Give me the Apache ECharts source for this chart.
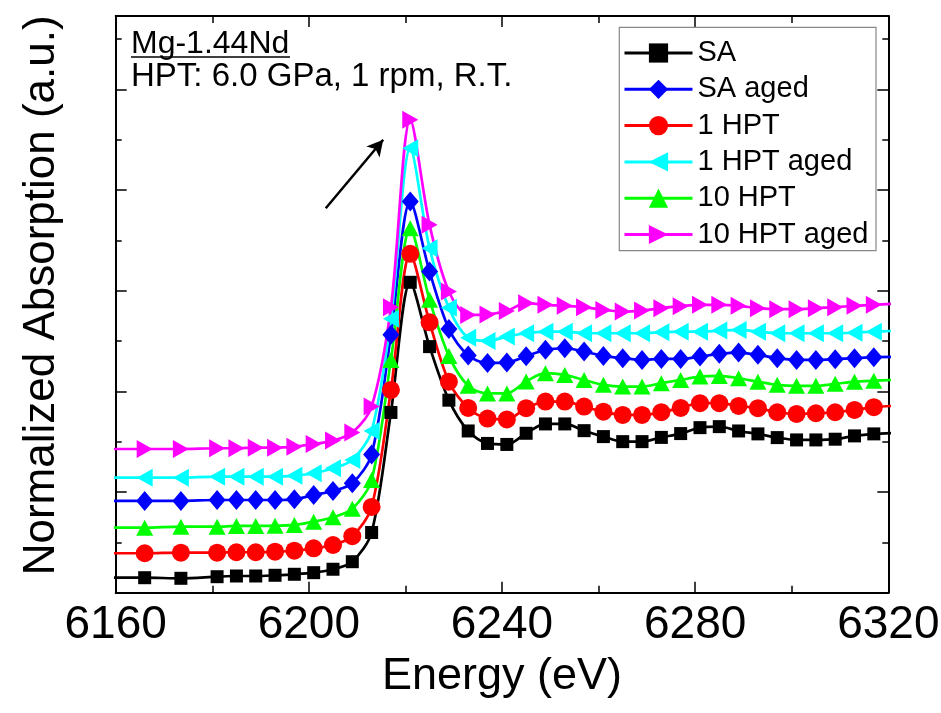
<!DOCTYPE html>
<html>
<head>
<meta charset="utf-8">
<script src="https://cdn.jsdelivr.net/npm/echarts@6/dist/echarts.min.js"></script>
<style>
html,body{margin:0;padding:0;background:#fff;}
#chart{width:941px;height:713px;}
</style>
</head>
<body>
<div id="chart"></div>
<script>
const energy = [6158.5, 6166, 6173.5, 6181, 6185, 6189, 6193, 6197, 6201, 6205, 6209, 6213,
  6217, 6221, 6225, 6229, 6233, 6237, 6241, 6245, 6249, 6253, 6257, 6261, 6265, 6269,
  6273, 6277, 6281, 6285, 6289, 6293, 6297, 6301, 6305, 6309, 6313, 6317, 6321];

const seriesNames = ['SA', 'SA aged', '1 HPT', '1 HPT aged', '10 HPT', '10 HPT aged'];

const SA = [0.149, 0.149, 0.143, 0.159, 0.166, 0.166, 0.173, 0.183, 0.199, 0.233, 0.308, 0.598,
  1.791, 3.084, 2.445, 1.913, 1.607, 1.483, 1.473, 1.584, 1.677, 1.677, 1.610, 1.551, 1.501, 1.501,
  1.543, 1.581, 1.640, 1.650, 1.607, 1.578, 1.541, 1.518, 1.518, 1.525, 1.558, 1.578, 1.587];
const SAaged = [0.912, 0.912, 0.912, 0.921, 0.921, 0.921, 0.921, 0.928, 0.971, 1.011, 1.087, 1.374,
  2.562, 3.887, 3.191, 2.621, 2.358, 2.283, 2.288, 2.350, 2.413, 2.429, 2.396, 2.353, 2.330, 2.313,
  2.323, 2.323, 2.346, 2.373, 2.386, 2.363, 2.330, 2.313, 2.313, 2.320, 2.330, 2.340, 2.343];
const HPT1 = [0.392, 0.392, 0.398, 0.398, 0.402, 0.402, 0.408, 0.417, 0.441, 0.474, 0.561, 0.852,
  2.015, 3.367, 2.686, 2.097, 1.836, 1.730, 1.722, 1.833, 1.899, 1.899, 1.849, 1.799, 1.766, 1.766,
  1.794, 1.836, 1.883, 1.883, 1.856, 1.833, 1.793, 1.776, 1.783, 1.793, 1.816, 1.843, 1.856];
const HPT1aged = [1.143, 1.143, 1.143, 1.153, 1.153, 1.153, 1.153, 1.163, 1.187, 1.237, 1.319, 1.607,
  2.721, 4.417, 3.423, 2.830, 2.532, 2.502, 2.545, 2.578, 2.594, 2.594, 2.578, 2.578, 2.578, 2.578,
  2.589, 2.594, 2.594, 2.604, 2.611, 2.594, 2.578, 2.578, 2.578, 2.578, 2.584, 2.594, 2.601];
const HPT10 = [0.646, 0.646, 0.656, 0.656, 0.663, 0.663, 0.666, 0.673, 0.706, 0.750, 0.834, 1.120,
  2.313, 3.622, 2.910, 2.353, 2.055, 1.980, 1.980, 2.099, 2.181, 2.164, 2.114, 2.065, 2.048, 2.048,
  2.082, 2.114, 2.147, 2.154, 2.131, 2.097, 2.065, 2.055, 2.055, 2.075, 2.097, 2.107, 2.114];
const HPT10aged = [1.428, 1.428, 1.428, 1.435, 1.435, 1.441, 1.441, 1.451, 1.478, 1.511, 1.592, 1.849,
  2.835, 4.699, 3.655, 2.992, 2.760, 2.765, 2.800, 2.877, 2.860, 2.850, 2.837, 2.810, 2.793, 2.803,
  2.827, 2.847, 2.860, 2.860, 2.850, 2.827, 2.817, 2.817, 2.827, 2.837, 2.850, 2.860, 2.870];

const xTicks = [6160, 6200, 6240, 6280, 6320];
const arrowFrom = [6203.5, 3.82];
const arrowTo = [6215.4, 4.50];

const FONT = '"Liberation Sans", Arial, sans-serif';

const styles = [
  {color: '#000000', symbol: 'rect', size: 13},
  {color: '#0000ff', symbol: 'diamond', size: [17, 20]},
  {color: '#ff0000', symbol: 'circle', size: 18},
  {color: '#00ffff', symbol: 'path://M10,0 L0,5 L10,10 Z', size: [16, 18]},
  {color: '#00ff00', symbol: 'triangle', size: [17, 16]},
  {color: '#ff00ff', symbol: 'path://M0,0 L10,5 L0,10 Z', size: [16, 18]}
];
const allData = [SA, SAaged, HPT1, HPT1aged, HPT10, HPT10aged];

const series = seriesNames.map((name, i) => ({
  name: name,
  type: 'line',
  data: energy.map((e, k) => [e, allData[i][k]]),
  smooth: 0.3,
  symbol: styles[i].symbol,
  symbolSize: styles[i].size,
  showAllSymbol: true,
  clip: true,
  lineStyle: {color: styles[i].color, width: 2.7},
  itemStyle: {color: styles[i].color},
  emphasis: {disabled: true}
}));

series.push({
  name: 'arrow',
  type: 'line',
  data: [],
  markLine: {
    silent: true,
    animation: false,
    symbol: ['none', 'arrow'],
    symbolSize: [13, 16],
    label: {show: false},
    lineStyle: {color: '#000', width: 2.5, type: 'solid'},
    data: [[{coord: arrowFrom}, {coord: arrowTo}]]
  }
});

const axisCommon = {
  type: 'value',
  min: 6160, max: 6320, interval: 40,
  axisLine: {show: true, onZero: false, lineStyle: {color: '#000', width: 2}},
  axisTick: {show: true, inside: true, length: 11, lineStyle: {color: '#000', width: 1.5}},
  minorTick: {show: true, splitNumber: 2, length: 7, lineStyle: {color: '#000', width: 1.5}},
  splitLine: {show: false},
  minorSplitLine: {show: false}
};
const yCommon = {
  type: 'value',
  min: 0, max: 5.73, interval: 1,
  axisLine: {show: true, onZero: false, lineStyle: {color: '#000', width: 2}},
  axisTick: {show: true, inside: true, length: 11, lineStyle: {color: '#000', width: 1.5}},
  minorTick: {show: true, splitNumber: 2, length: 6, lineStyle: {color: '#000', width: 1.5}},
  splitLine: {show: false},
  minorSplitLine: {show: false},
  axisLabel: {show: false}
};

const chart = echarts.init(document.getElementById('chart'), null, {renderer: 'canvas'});
chart.setOption({
  animation: false,
  backgroundColor: '#fff',
  grid: {left: 115.7, right: 52.7, top: 16, bottom: 120.3, containLabel: false, outerBoundsMode: 'none'},
  xAxis: [
    Object.assign({}, axisCommon, {
      position: 'bottom',
      name: 'Energy (eV)', nameLocation: 'middle', nameGap: 58,
      nameTextStyle: {fontSize: 45, fontFamily: FONT, color: '#000'},
      axisLabel: {show: true, margin: 10, fontSize: 46, fontFamily: FONT, color: '#000',
        formatter: v => xTicks.indexOf(v) >= 0 ? String(v) : ''}
    }),
    Object.assign({}, axisCommon, {position: 'top', axisLabel: {show: false}})
  ],
  yAxis: [
    Object.assign({}, yCommon, {
      position: 'left',
      name: 'Normalized Absorption (a.u.)', nameLocation: 'middle', nameGap: 52,
      nameTextStyle: {fontSize: 44, fontFamily: FONT, color: '#000', padding: [0, 0, 0, 18]}
    }),
    Object.assign({}, yCommon, {position: 'right'})
  ],
  legend: {
    data: seriesNames,
    orient: 'vertical',
    left: 623, top: 38,
    padding: 0,
    itemWidth: 68, itemHeight: 24, itemGap: 6.3,
    lineStyle: {width: 3},
    textStyle: {fontSize: 29, fontFamily: FONT, color: '#000', lineHeight: 30},
    selectedMode: false
  },
  graphic: [
    {type: 'rect', shape: {x: 619.3, y: 27.3, width: 256.7, height: 223.4},
      style: {fill: 'none', stroke: '#888', lineWidth: 1.2}, z: 10, silent: true},
    {type: 'text', x: 131, y: 44, style: {text: 'Mg-1.44Nd', fontSize: 32, fontFamily: FONT,
      fill: '#000', textAlign: 'left', textVerticalAlign: 'middle'}, z: 10, silent: true},
    {type: 'line', shape: {x1: 131, y1: 57, x2: 290, y2: 57},
      style: {stroke: '#000', lineWidth: 1.5}, z: 10, silent: true},
    {type: 'text', x: 131, y: 77, style: {text: 'HPT: 6.0 GPa, 1 rpm, R.T.', fontSize: 33, fontFamily: FONT,
      fill: '#000', textAlign: 'left', textVerticalAlign: 'middle'}, z: 10, silent: true}
  ],
  series: series
});
</script>
</body>
</html>
